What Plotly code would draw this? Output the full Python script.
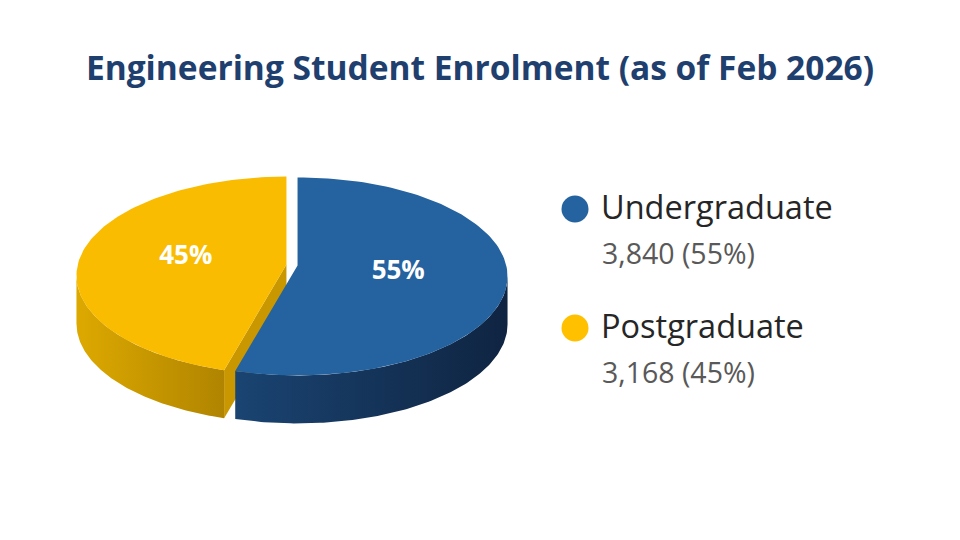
import numpy as np
import plotly.graph_objects as go

# ---------------- data ----------------
categories = ["Undergraduate", "Postgraduate"]
values = [3840, 3168]
title_text = "Engineering Student Enrolment (as of Feb 2026)"

top_colors = ["#2463A0", "#F9BC00"]
side_scales = [[[0, "#1A4472"], [1, "#0F2441"]],
               [[0, "#DDA900"], [1, "#B08400"]]]
cut_colors = ["#17406A", "#C99700"]
legend_colors = ["#2463A0", "#FFC000"]

# ---------------- geometry (page pixel space) ----------------
W, H = 960, 540
PAGE_OFF = 8                 # browser body margin
cx, cy_e = 292, 276          # ellipse centre
apex_y = 265                 # visual centre of the pie (perspective)
rx, ry = 210, 99
depth = 48
explode = 5.6
label_k = 0.485

total = sum(values)
fracs = [v / total for v in values]
pct = [f"{round(f * 100)}%" for f in fracs]

fig = go.Figure()


def arc(t0, t1, ox, oy, dz=0, n=120):
    t = np.linspace(t0, t1, n)
    return cx + ox + rx * np.sin(t), cy_e + oy - ry * np.cos(t) + dz


slices = []
a = 0.0
for i, f in enumerate(fracs):
    a0, a1 = a, a + f * 2 * np.pi
    mid = (a0 + a1) / 2
    ox = explode * np.sin(mid)
    oy = -explode * np.cos(mid) * ry / rx
    slices.append((i, a0, a1, mid, ox, oy))
    a = a1

# cut faces (visible only if their outward normal faces the viewer)
for i, a0, a1, mid, ox, oy in slices:
    for ang, normal in ((a0, a0 - np.pi / 2), (a1, a1 + np.pi / 2)):
        if np.cos(normal) < -1e-6:
            px, py = arc(ang, ang, ox, oy, n=1)
            ax_, ay_ = cx + ox, apex_y + oy
            xs = [ax_, px[0], px[0], ax_, ax_]
            ys = [ay_, py[0], py[0] + depth, ay_ + depth, ay_]
            fig.add_trace(go.Scatter(x=xs, y=ys, fill="toself", mode="lines",
                                     line=dict(width=0), fillcolor=cut_colors[i],
                                     hoverinfo="skip", showlegend=False))

# outer side walls
for i, a0, a1, mid, ox, oy in slices:
    s0, s1 = max(a0, np.pi / 2), min(a1, 3 * np.pi / 2)
    if s1 > s0:
        tx, ty = arc(s0, s1, ox, oy)
        bx, by = arc(s0, s1, ox, oy, dz=depth)
        xs = np.concatenate([tx, bx[::-1], tx[:1]])
        ys = np.concatenate([ty, by[::-1], ty[:1]])
        fig.add_trace(go.Scatter(x=xs, y=ys, fill="toself", mode="lines",
                                 line=dict(width=0),
                                 fillgradient=dict(type="horizontal",
                                                   colorscale=side_scales[i]),
                                 hoverinfo="skip", showlegend=False))

# top faces
for i, a0, a1, mid, ox, oy in slices:
    tx, ty = arc(a0, a1, ox, oy)
    xs = np.concatenate([[cx + ox], tx, [cx + ox]])
    ys = np.concatenate([[apex_y + oy], ty, [apex_y + oy]])
    fig.add_trace(go.Scatter(x=xs, y=ys, fill="toself", mode="lines",
                             line=dict(width=0), fillcolor=top_colors[i],
                             hoverinfo="skip", showlegend=False))

# percentage labels
lx, ly = [], []
for i, a0, a1, mid, ox, oy in slices:
    lx.append(cx + ox + label_k * rx * np.sin(mid))
    ly.append(apex_y + oy - label_k * ry * np.cos(mid))
fig.add_trace(go.Scatter(x=lx, y=ly, mode="text", text=pct,
                         textfont=dict(family="Open Sans", size=26, color="white",
                                       weight="bold"),
                         textposition="middle center", hoverinfo="skip",
                         showlegend=False))

# legend
leg_x, leg_y0, leg_dy = 575, 209, 119
leg_y = [leg_y0 + k * leg_dy for k in range(len(categories))]
fig.add_trace(go.Scatter(x=[leg_x] * len(categories), y=leg_y, mode="markers",
                         marker=dict(size=27, color=legend_colors, line=dict(width=0)),
                         hoverinfo="skip", showlegend=False))
fig.add_trace(go.Scatter(x=[leg_x + 26] * len(categories), y=[y + 1.5 for y in leg_y],
                         mode="text", text=categories, textposition="middle right",
                         textfont=dict(family="Open Sans", size=32.5, color="#262626"),
                         hoverinfo="skip", showlegend=False))
sub = [f"{v:,} ({p})" for v, p in zip(values, pct)]
fig.add_trace(go.Scatter(x=[leg_x + 27] * len(categories), y=[y + 47.5 for y in leg_y],
                         mode="text", text=sub, textposition="middle right",
                         textfont=dict(family="Open Sans", size=28.5, color="#595959"),
                         hoverinfo="skip", showlegend=False))

fig.update_layout(
    width=W, height=H,
    margin=dict(l=0, r=0, t=0, b=0),
    paper_bgcolor="white", plot_bgcolor="white",
    title=dict(text=title_text, x=(480 - PAGE_OFF) / W, xanchor="center",
               y=1 - (68 - PAGE_OFF) / H, yanchor="middle",
               font=dict(family="Open Sans", size=33.5, color="#1F3F6F", weight="bold")),
    xaxis=dict(range=[PAGE_OFF, W + PAGE_OFF], visible=False, fixedrange=True),
    yaxis=dict(range=[H + PAGE_OFF, PAGE_OFF], visible=False, fixedrange=True),
    showlegend=False,
)

fig.write_html("out.html")
